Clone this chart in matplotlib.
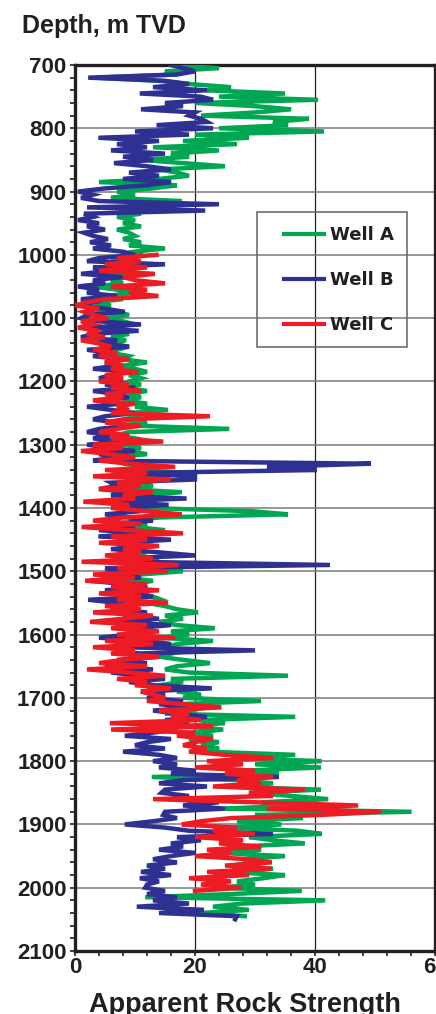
import numpy as np
import matplotlib
matplotlib.use('Agg')
import matplotlib.pyplot as plt
import matplotlib.patches as mplpatches
from matplotlib import font_manager as fm
from matplotlib.ticker import MultipleLocator

# condensed bold face for axis text if present, wide bold for legend
names = set(fm.get_font_names())
narrow = 'Liberation Sans Narrow' if 'Liberation Sans Narrow' in names else 'Liberation Sans'
ink = '#231f20'

# depth samples (m TVD), one reading every 5 m
depth_a = np.arange(700, 2046, 5)
depth_b = np.arange(700, 2051, 5)
depth_c = np.arange(1000, 2006, 5)

# apparent rock strength
well_a = [
    16, 24, 15, 17, 3.5, 14, 19, 26, 22, 35, 24, 40.5, 20, 30, 36, 30, 21, 39, 33, 35.5,
    24, 41.5, 20, 29, 18, 27, 13, 24, 16, 19, 11, 18, 25, 14, 17, 19, 14, 4, 17, 13,
    7, 10, 6, 17.8, 9, 16.7, 8, 11, 7, 10, 8, 11, 7, 9, 10, 8, 11, 9, 15, 10,
    11, 6, 9, 5, 10, 7, 4, 9, 6, 8, 3, 7, 10, 5, 8, 3, 6, 2, 7, 9,
    5, 8, 10, 4, 7, 9, 6, 8.5, 5.5, 9, 7, 6, 9, 8, 12, 8, 10, 12, 9, 11,
    9, 11, 8, 12, 9, 11, 8, 12, 10, 15.5, 9, 11, 8, 12, 10, 25.7, 9, 7, 10, 13,
    8, 11, 9, 12, 6, 10, 8, 12, 9, 20, 7, 12, 10, 13, 8, 17.8, 11, 9, 13, 10,
    12, 29.4, 35.5, 14, 9, 12, 10, 15, 8, 13, 11, 9, 13, 10, 12, 8, 14, 10, 12, 9,
    18, 11, 8, 13, 10, 12, 7, 11, 13, 14.4, 12, 15, 17, 20.5, 15, 18, 14, 17, 23.3, 16,
    19, 14, 23, 17, 15, 19, 16, 14, 18, 22.5, 17, 15, 19, 35.5, 16, 18, 14, 20, 17, 21,
    18, 31, 17, 22, 19, 15, 36.7, 21, 25, 18, 24.7, 20, 23, 19, 24, 21, 24, 22, 36.7, 26,
    41.1, 30, 41, 28, 34, 12.8, 27, 33, 24, 41, 29, 36, 42.2, 31, 37, 25, 56.1, 30, 38, 27,
    34.4, 25, 37.2, 41.1, 29, 33, 38.3, 27, 31, 24, 35, 28, 30, 26, 33, 25, 35, 31.4, 27, 30,
    24, 37.8, 26, 11.7, 41.7, 28, 23, 29, 21, 28.3,
]
well_b = [
    16, 18, 20, 17, 2.2, 15, 19, 13, 22, 10.8, 21, 23, 15, 18, 11, 20, 19, 21, 22, 13.6,
    23, 10, 19, 3.9, 14, 7, 12, 6, 15, 8, 13, 6.5, 12, 16, 9, 14, 8, 16, 12, 5,
    0.5, 3, 1, 4, 24, 2, 21.7, 1.5, 3, 0.5, 4, 2, 5, 1.5, 3, 5.5, 2.5, 6, 3, 8,
    10, 4, 2, 15, 3, 6, 1, 8, 3, 5, 0.5, 4, 2, 7, 1, 3, 0.5, 5, 8.3, 2,
    1, 4, 11, 2, 10.6, 3, 1, 7, 4, 9, 2, 6, 3, 8, 5, 7, 3, 9, 6, 4,
    8, 5, 10, 3, 7, 9, 4, 8, 2, 6, 10, 5, 3, 7, 9, 4, 2, 6, 3, 8,
    2, 6, 10, 4, 7, 3, 49.3, 32, 40.3, 8, 20, 20, 6, 7, 4, 9, 6, 18.6, 5, 15.6,
    8, 11, 5, 9, 13, 6, 10, 4, 12, 3.9, 16, 8, 11, 6, 14, 20, 7, 10, 42.5, 5,
    9, 4, 11, 2.5, 8, 12, 5, 9, 13, 2.2, 7, 10, 6, 12, 8, 14, 7, 16, 10, 13,
    9, 4, 12, 16, 8, 30, 10, 14, 7, 12, 5, 13, 6, 11, 15, 9, 13, 22.8, 11, 15,
    12, 18, 14, 20, 13, 17, 22, 15, 19, 14, 17, 13, 8.3, 16, 12, 10, 15, 8, 14, 17,
    13, 17, 14, 20, 16, 34, 18, 14, 22, 15, 14.4, 19, 16, 24, 18, 25, 15, 14.7, 17, 13,
    8.3, 15, 19, 33, 17, 21, 16, 18, 14, 20, 16, 13, 17, 12, 15, 11, 16, 10.8, 14, 12,
    11.7, 15, 12, 17, 13, 19, 10.3, 21.5, 14, 27, 26.7,
]
well_c = [
    13.6, 7, 11, 5, 12, 4, 13.3, 8, 10, 15, 6, 12, 9, 13.9, 5, 2, 0, 4, 1.5, 3,
    5.5, 1, 3, 0.5, 4, 2, 5, 1, 4, 6, 3, 7, 4, 9, 5, 8, 6, 10.5, 5, 8,
    4, 9, 6, 11, 5, 8, 3, 10, 7, 9, 6, 22.5, 8, 5, 11, 7, 4, 9, 6, 14.7,
    3, 8, 1, 6, 10, 4, 9, 16.7, 5, 12, 3, 16, 7, 11, 4, 13, 8, 10, 1.4, 9,
    6, 12, 17.8, 8, 3, 11, 1.1, 9, 18, 6, 12, 4, 14, 8, 11, 5, 13, 1.1, 17.2, 7,
    15.5, 3, 10, 1.7, 12, 6, 14, 4, 11, 7, 15.5, 5, 11, 3, 13, 8, 2.5, 12, 6, 14,
    7, 16.7, 5, 13, 3, 10, 6, 14, 8, 4, 12, 2, 9, 15, 7, 12, 10, 16, 11, 13,
    15, 12, 18, 24.4, 14, 19, 16, 21, 5.8, 23, 6, 20, 17, 23, 20, 18, 22, 19, 25, 33,
    22, 28, 20, 30, 25, 33, 27, 31, 23, 38.3, 29, 33, 13, 30, 47.2, 32, 51, 41, 26, 21,
    17.8, 27, 23, 30, 20, 28, 24, 31, 22, 26, 20, 29, 32.8, 25, 32.8, 22, 29, 19, 26, 21,
    27.8, 20,
]

labels = ['Well A', 'Well B', 'Well C']
colors = ['#00a651', '#2e3192', '#ed1c24']

figureWidth = 4.36
figureHeight = 10.14
fig = plt.figure(figsize=(figureWidth, figureHeight), dpi=100)
ax = fig.add_axes([75/436, 63/1014, 360/436, 886/1014])

for d, v, lab, col, z in zip([depth_a, depth_b, depth_c], [well_a, well_b, well_c],
                             labels, colors, [3, 4, 5]):
    ax.plot(v, d, color=col, lw=3.2, label=lab, zorder=z, solid_joinstyle='miter')

ax.set_xlim(0, 60)
ax.set_ylim(2100, 700)

# grid: black verticals at 20/40, grey horizontals every 100 m
for x in [20, 40]:
    ax.axvline(x, color=ink, lw=0.9, zorder=1)
for y in range(800, 2100, 100):
    ax.axhline(y, color='#7a7a7a', lw=1.1, zorder=1)

ax.xaxis.set_major_locator(MultipleLocator(20))
ax.xaxis.set_minor_locator(MultipleLocator(4))
ax.yaxis.set_major_locator(MultipleLocator(100))
ax.yaxis.set_minor_locator(MultipleLocator(20))
ax.tick_params(which='both', direction='out', color=ink, width=1.2, length=3.5,
               top=False, right=False)
ax.tick_params(axis='x', which='major', pad=0.5)
ax.tick_params(axis='y', which='major', pad=2.5)

for sp in ax.spines.values():
    sp.set_linewidth(2.4)
    sp.set_color(ink)

for t in ax.get_xticklabels() + ax.get_yticklabels():
    t.set_fontfamily(narrow)
    t.set_fontweight('bold')
    t.set_fontsize(16)
    t.set_color(ink)

fig.text(22/436, 1 - 33/1014, 'Depth, m TVD', family=narrow, weight='bold',
         fontsize=18, color=ink, ha='left', va='baseline')
fig.text(245/436, 2/1014, 'Apparent Rock Strength', family=narrow, weight='bold',
         fontsize=19.5, color=ink, ha='center', va='baseline')

# legend frame drawn separately so the padding matches the original box
box = mplpatches.Rectangle((182/360, 604/886), 150/360, 135/886, transform=ax.transAxes,
                           facecolor='none', edgecolor='#6d6d6d', lw=1.2, zorder=6)
ax.add_patch(box)
leg = ax.legend(loc='upper left', bbox_to_anchor=(209/360, 725/886), frameon=False,
                prop={'family': 'DejaVu Sans', 'weight': 'bold', 'size': 13},
                labelspacing=1.5, handlelength=2.2, handletextpad=0.35,
                borderpad=0, borderaxespad=0)
for t in leg.get_texts():
    t.set_color(ink)
for h in leg.get_lines():
    h.set_linewidth(3.0)

plt.savefig('out.png', dpi=100)
